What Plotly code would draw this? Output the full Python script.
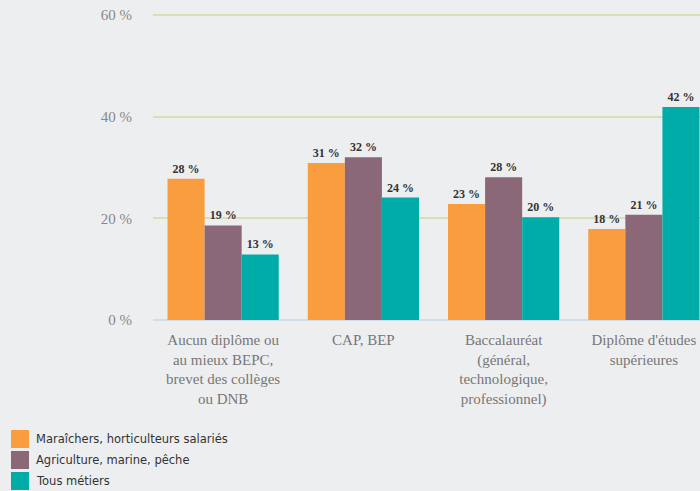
import plotly.graph_objects as go

categories = [
    "Aucun diplôme ou<br>au mieux BEPC,<br>brevet des collèges<br>ou DNB",
    "CAP, BEP",
    "Baccalauréat<br>(général,<br>technologique,<br>professionnel)",
    "Diplôme d'études<br>supérieures",
]
series_names = [
    "Maraîchers, horticulteurs salariés",
    "Agriculture, marine, pêche",
    "Tous métiers",
]
maraichers = [27.8, 30.9, 22.8, 17.9]
agriculture = [18.6, 32.0, 28.1, 20.7]
tous = [12.9, 24.1, 20.2, 41.9]
colors = ["#f99d3e", "#8b6878", "#00aca8"]
tick_vals = [0, 20, 40, 60]
tick_text = ["0 %", "20 %", "40 %", "60 %"]

W, H = 700, 491
L, R, T, B = 153, 0, 14, 171
pw, ph = W - L - R, H - T - B

fig = go.Figure()
for name, vals, col in zip(series_names, [maraichers, agriculture, tous], colors):
    fig.add_trace(go.Bar(
        x=categories, y=vals, name=name,
        marker=dict(color=col, line=dict(width=0)),
        texttemplate="<b>%{y:.0f} %</b>", textposition="outside",
        textfont=dict(family="Liberation Serif", size=12, color="#333333"),
        cliponaxis=False, showlegend=False,
    ))

# Manual legend (swatches + labels) at bottom-left, in pixel-derived paper coords
def px_x(px):
    return (px - L) / pw

def px_y(py):
    return (H - B - py) / ph

shapes = []
annotations = []
for i, (name, col) in enumerate(zip(series_names, colors)):
    top = 430 + i * 21
    shapes.append(dict(type="rect", xref="paper", yref="paper",
                       x0=px_x(11), x1=px_x(29), y0=px_y(top + 18), y1=px_y(top),
                       fillcolor=col, line=dict(width=0)))
    annotations.append(dict(xref="paper", yref="paper", x=px_x(34), y=px_y(top + 9),
                            xanchor="left", yanchor="middle", showarrow=False,
                            text=name,
                            font=dict(family="DejaVu Sans", size=11.5, color="#333333")))

fig.update_layout(
    width=W, height=H,
    paper_bgcolor="#edeef0", plot_bgcolor="#edeef0",
    barmode="group", bargap=0.207, bargroupgap=0,
    margin=dict(l=L, r=R, t=T, b=B, autoexpand=False),
    font=dict(family="Liberation Serif", color="#777777"),
    showlegend=False,
    shapes=shapes, annotations=annotations,
)
fig.update_xaxes(
    range=[-0.5, 3.4], showgrid=False, ticks="", showline=False,
    tickfont=dict(family="Liberation Serif", size=15, color="#777777"),
    ticklabelstandoff=9,
)
fig.update_yaxes(
    range=[0, 60.2], tickvals=tick_vals, ticktext=tick_text,
    showgrid=True, gridcolor="#d5e1b5", gridwidth=2,
    zeroline=True, zerolinecolor="#d3dde8", zerolinewidth=2,
    tickfont=dict(family="Liberation Serif", size=15, color="#888888"),
    ticklabelstandoff=20,
)
fig.write_html("out.html")
